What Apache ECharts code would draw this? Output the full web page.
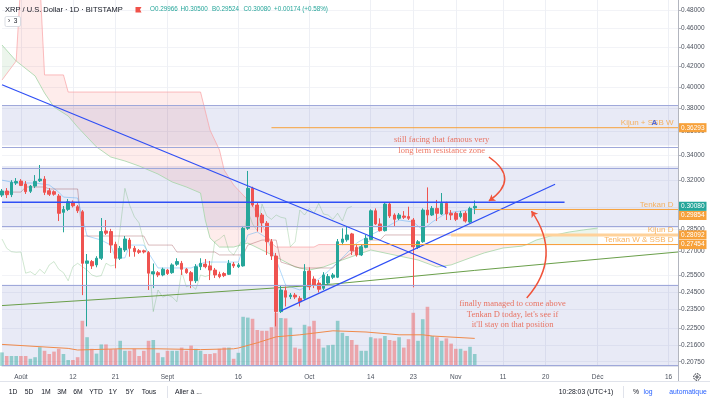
<!DOCTYPE html>
<html>
<head>
<meta charset="utf-8">
<script src="https://cdn.jsdelivr.net/npm/echarts@6/dist/echarts.min.js"></script>
<style>
html, body { margin: 0; padding: 0; background: #fff; }
#chart { width: 710px; height: 402px; }
</style>
</head>
<body>
<div id="chart"></div>
<script>
// XRP / USD, 1D, Bitstamp : 28 Jul 2019 -> 5 Nov 2019 (+ empty days on the right)
const dayCount = 144;
const dates = [];
for (let i = 0; i < dayCount; i++) {
  dates.push(new Date(Date.UTC(2019, 6, 28 + i)).toISOString().slice(0, 10));
}

const timeTicks = ['2019-08-01', '2019-08-12', '2019-08-21', '2019-09-01', '2019-09-16', '2019-10-01',
  '2019-10-14', '2019-10-23', '2019-11-01', '2019-11-11', '2019-11-20', '2019-12-01', '2019-12-16'];
const timeTickLabels = ['Août', '12', '21', 'Sept', '16', 'Oct', '14', '23', 'Nov', '11', '20', 'Déc', '16'];
const priceTicks = [0.48, 0.46, 0.44, 0.42, 0.40, 0.38, 0.36, 0.34, 0.32, 0.30, 0.285, 0.27, 0.255, 0.245,
  0.235, 0.225, 0.216, 0.2075];
const priceRange = [0.2054, 0.4924];

// candles
const opens = [0.3090, 0.3120, 0.3093, 0.3180, 0.3195, 0.3172, 0.3118, 0.3157, 0.3197, 0.3210,
  0.3122, 0.3115, 0.3083, 0.2965, 0.2986, 0.3037, 0.3005, 0.2969, 0.2625, 0.2636,
  0.2615, 0.2657, 0.2836, 0.2832, 0.2747, 0.2657, 0.2710, 0.2775, 0.2721, 0.2705,
  0.2705, 0.2693, 0.2559, 0.2567, 0.2553, 0.2583, 0.2567, 0.2619, 0.2625, 0.2588,
  0.2567, 0.2518, 0.2604, 0.2620, 0.2609, 0.2583, 0.2557, 0.2562, 0.2557, 0.2620,
  0.2604, 0.2609, 0.2854, 0.3140, 0.3017, 0.2946, 0.2889, 0.2764, 0.2671, 0.2339,
  0.2459, 0.2424, 0.2433, 0.2414, 0.2414, 0.2577, 0.2528, 0.2504, 0.2473, 0.2504,
  0.2539, 0.2539, 0.2760, 0.2777, 0.2816, 0.2727, 0.2678, 0.2727, 0.2779, 0.2976,
  0.2884, 0.2838, 0.3024, 0.2946, 0.2923, 0.2939, 0.2935, 0.2911, 0.2727, 0.2764,
  0.2981, 0.2946, 0.2993, 0.2953, 0.3029, 0.2958, 0.2958, 0.2935, 0.2958, 0.2897,
  0.29966];
const highs = [0.3135, 0.3142, 0.3202, 0.3218, 0.3210, 0.3195, 0.3165, 0.3241, 0.3320, 0.3233,
  0.3142, 0.3125, 0.3098, 0.3010, 0.3061, 0.3050, 0.3017, 0.2981, 0.2684, 0.2646,
  0.2670, 0.2925, 0.2911, 0.2850, 0.2764, 0.2736, 0.2802, 0.2789, 0.2736, 0.2716,
  0.2712, 0.2703, 0.2624, 0.2577, 0.2598, 0.2590, 0.2625, 0.2657, 0.2640, 0.2596,
  0.2577, 0.2620, 0.2657, 0.2652, 0.2640, 0.2596, 0.2573, 0.2570, 0.2646, 0.2633,
  0.2628, 0.2870, 0.3273, 0.3152, 0.3032, 0.2960, 0.2904, 0.2782, 0.2691, 0.2492,
  0.2483, 0.2445, 0.2445, 0.2427, 0.2620, 0.2600, 0.2545, 0.2522, 0.2570, 0.2559,
  0.2565, 0.2782, 0.2854, 0.2866, 0.2823, 0.2742, 0.2747, 0.2809, 0.2986, 0.2993,
  0.2923, 0.3034, 0.3039, 0.2958, 0.2960, 0.2974, 0.3005, 0.2925, 0.2775, 0.2993,
  0.3147, 0.3010, 0.3054, 0.3105, 0.3041, 0.2981, 0.2969, 0.2974, 0.2974, 0.3005,
  0.30500];
const lows = [0.3075, 0.3068, 0.3075, 0.3165, 0.3157, 0.3098, 0.3105, 0.3142, 0.3188, 0.3090,
  0.3083, 0.3085, 0.2904, 0.2827, 0.2974, 0.3000, 0.2960, 0.2433, 0.2258, 0.2590,
  0.2600, 0.2646, 0.2809, 0.2691, 0.2594, 0.2646, 0.2697, 0.2667, 0.2667, 0.2684,
  0.2688, 0.2463, 0.2474, 0.2540, 0.2545, 0.2553, 0.2560, 0.2609, 0.2553, 0.2560,
  0.2474, 0.2504, 0.2583, 0.2594, 0.2522, 0.2535, 0.2533, 0.2540, 0.2553, 0.2596,
  0.2596, 0.2604, 0.2843, 0.3005, 0.2832, 0.2825, 0.2678, 0.2646, 0.2258, 0.2331,
  0.2368, 0.2410, 0.2410, 0.2368, 0.2405, 0.2463, 0.2474, 0.2448, 0.2463, 0.2492,
  0.2528, 0.2534, 0.2742, 0.2764, 0.2678, 0.2667, 0.2671, 0.2721, 0.2775, 0.2877,
  0.2832, 0.2832, 0.2925, 0.2866, 0.2911, 0.2918, 0.2911, 0.2479, 0.2716, 0.2757,
  0.2891, 0.2939, 0.2904, 0.2946, 0.2911, 0.2911, 0.2904, 0.2923, 0.2893, 0.2891,
  0.29524];
const closes = [0.3120, 0.3093, 0.3185, 0.3192, 0.3162, 0.3115, 0.3157, 0.3192, 0.3210, 0.3110,
  0.3096, 0.3096, 0.2958, 0.2986, 0.3041, 0.3012, 0.2976, 0.2625, 0.2640, 0.2609,
  0.2657, 0.2832, 0.2821, 0.2742, 0.2657, 0.2721, 0.2782, 0.2721, 0.2699, 0.2695,
  0.2697, 0.2564, 0.2573, 0.2553, 0.2588, 0.2562, 0.2615, 0.2636, 0.2588, 0.2567,
  0.2518, 0.2604, 0.2625, 0.2604, 0.2583, 0.2553, 0.2543, 0.2549, 0.2625, 0.2609,
  0.2615, 0.2854, 0.3140, 0.3017, 0.2934, 0.2891, 0.2764, 0.2671, 0.2339, 0.2463,
  0.2421, 0.2433, 0.2422, 0.2395, 0.2575, 0.2482, 0.2492, 0.2467, 0.2553, 0.2543,
  0.2553, 0.2764, 0.2782, 0.2809, 0.2705, 0.2678, 0.2731, 0.2786, 0.2976, 0.2884,
  0.2838, 0.3024, 0.2939, 0.2916, 0.2946, 0.2930, 0.2923, 0.2731, 0.2764, 0.2981,
  0.2946, 0.2993, 0.2958, 0.3029, 0.2953, 0.2946, 0.2916, 0.2958, 0.2904, 0.2993,
  0.30080];
// volume, millions XRP
const volumes = [34, 25, 25, 25, 25, 25, 18, 22, 47, 38, 30, 36, 43, 30, 15, 15, 22, 113, 72, 43,
  31, 54, 54, 42, 42, 63, 38, 38, 43, 25, 38, 63, 65, 33, 22, 38, 38, 38, 46, 38,
  51, 43, 38, 30, 30, 32, 43, 46, 46, 18, 33, 123, 121, 118, 90, 88, 88, 97, 133, 120,
  119, 96, 46, 43, 103, 99, 113, 68, 46, 52, 53, 113, 83, 75, 65, 53, 38, 38, 72, 69,
  69, 75, 65, 63, 72, 46, 67, 133, 63, 117, 148, 75, 72, 63, 69, 56, 43, 43, 38, 48, 30];
const volMaDays = [0, 14, 16, 25, 33, 42, 49, 50, 54, 58, 63, 70, 77, 84, 89, 91, 100];
const volMaValues = [54, 44, 40, 43, 43, 41, 43, 45, 58, 73, 78, 88, 85, 78, 78, 75, 69];

// Ichimoku (day index, price)
const tenkanDays = [0, 3, 7, 10, 12, 13, 16, 17, 18, 21, 23, 24, 26, 27, 30, 31, 33, 40, 43, 50, 51, 52, 54,
  56, 58, 60, 63, 66, 69, 72, 75, 78, 81, 84, 87, 89, 91, 94, 97, 100];
const tenkanValues = [0.3202, 0.3180, 0.3180, 0.3165, 0.3112, 0.3075, 0.3068, 0.2925, 0.2802, 0.2775,
  0.2742, 0.2659, 0.2659, 0.2742, 0.2742, 0.2691, 0.2596, 0.2596, 0.2633, 0.2633, 0.2723, 0.2809,
  0.2829, 0.2789, 0.2646, 0.2492, 0.2463, 0.2505, 0.2576, 0.2659, 0.2755, 0.2809, 0.2857, 0.2911,
  0.2897, 0.2843, 0.2897, 0.2960, 0.2974, 0.2988];
const kijunDays = [0, 4, 5, 9, 10, 16, 17, 30, 31, 36, 37, 45, 46, 51, 52, 55, 58, 59, 63, 70, 71, 78, 80, 81, 100];
const kijunValues = [0.3112, 0.3112, 0.3150, 0.3150, 0.3135, 0.3135, 0.2802, 0.2802, 0.2742, 0.2742,
  0.2697, 0.2697, 0.2678, 0.2678, 0.2742, 0.2775, 0.2775, 0.2633, 0.2596, 0.2596, 0.2633, 0.2775,
  0.2775, 0.2809, 0.2809];
const spanADays = [0, 3, 7, 9, 11, 14, 16, 18, 20, 23, 26, 29, 33, 36, 39, 42, 43, 44, 46, 49, 52, 55,
  58, 62, 65, 68, 72, 75, 78, 85, 88, 92, 95, 99, 102, 106, 110, 111, 113, 116, 120, 123, 126];
const spanAValues = [0.4422, 0.4256, 0.4107, 0.3943, 0.3813, 0.3732, 0.3635, 0.3549, 0.3466, 0.3384,
  0.3352, 0.3312, 0.3249, 0.3188, 0.3150, 0.3105, 0.2911, 0.2789, 0.2729, 0.2729, 0.2755, 0.2710,
  0.2665, 0.2602, 0.2583, 0.2602, 0.2646, 0.2678, 0.2710, 0.2665, 0.2646, 0.2602, 0.2615, 0.2659,
  0.2691, 0.2723, 0.2735, 0.2745, 0.2775, 0.2802, 0.2829, 0.2843, 0.2856];
const spanBDays = [0, 3, 4, 8, 9, 13, 14, 42, 44, 46, 47, 49, 51, 53, 55, 57, 58, 66, 67, 111, 126];
const spanBValues = [0.4067, 0.4256, 0.5165, 0.5165, 0.4117, 0.4117, 0.3952, 0.3952, 0.3609, 0.3441,
  0.3280, 0.3165, 0.3090, 0.3017, 0.2877, 0.2755, 0.2729, 0.2729, 0.2745, 0.2745, 0.2745];
const cloudFrom = [0, 3, 111];
const cloudTo = [3, 111, 126];
const cloudBull = [true, false, true];

// long green curve
const greenDays = [0, 34, 70, 100, 143];
const greenValues = [0.2373, 0.2431, 0.2498, 0.2581, 0.2697];

// blue trend lines [dayFrom, priceFrom, dayTo, priceTo]
const trendFalling = [0, 0.4021, 94, 0.2599];
const trendRising = [59, 0.2343, 117, 0.3171];
const trendFlat = [0, 0.3037, 119, 0.3037];

// resistance zones [low, high]
const zoneLow = [0.3478, 0.2854, priceRange[0]];
const zoneHigh = [0.3822, 0.3312, 0.2496];

// level lines
const levelNames = ['Kijun + SSB W', 'Tenkan D', 'Kijun D', 'Tenkan W & SSB D'];
const levelPrices = [0.36293, 0.29854, 0.28092, 0.27454];
const levelFrom = [57, 100, 95, 71];
const lastPrice = 0.30080;

// notes
const noteTexts = ['still facing that famous very\nlong term resistance zone',
  "finally managed to come above\nTenkan D today, let's see if\nit'll stay on that position"];
const noteDays = [93, 108];
const notePrices = [0.3480, 0.2324];
const arrowFrom = [[103, 0.3384], [111, 0.2416]];
const arrowTo = [[103, 0.3047], [112, 0.2974]];
const arrowBend = [0.72, -0.39];

const L = Math.log;
const UP = '#26a69a', DOWN = '#ef5350', ORANGE = '#f7a13a', BLUE = '#2f4ff5';
const pts = (days, vals) => days.map((d, k) => [dates[d], L(vals[k])]);
const tickSet = new Set(timeTicks);
const tickText = {};
timeTicks.forEach((d, k) => { tickText[d] = timeTickLabels[k]; });
const tickInterval = (idx, val) => tickSet.has(val);

const candleData = opens.map((o, i) => [L(o), L(closes[i]), L(lows[i]), L(highs[i])]);
const volumeData = volumes.map((v, i) => ({
  value: v,
  itemStyle: { color: closes[i] >= opens[i] ? 'rgba(38,166,154,0.45)' : 'rgba(239,83,80,0.45)' }
}));
const chikouData = closes.slice(26).map((c, k) => [dates[k], L(c)]);

function spanPoints(days, vals, from, to, api) {
  const out = [];
  days.forEach((d, k) => { if (d >= from && d <= to) out.push(api.coord([d, L(vals[k])])); });
  return out;
}

const chart = echarts.init(document.getElementById('chart'));
const thin = (color, width, extra) => Object.assign({
  type: 'line', showSymbol: false, symbol: 'none', silent: true, z: 3,
  lineStyle: { color: color, width: width || 1 }
}, extra || {});

const zoneEdges = zoneLow.concat(zoneHigh);
const series = [
  {
    type: 'line', data: [], silent: true,
    markArea: {
      silent: true,
      itemStyle: { color: 'rgba(63,81,181,0.12)' },
      data: zoneLow.map((lo, k) => [{ yAxis: L(lo) }, { yAxis: L(zoneHigh[k]) }])
    },
    markLine: {
      silent: true, symbol: 'none', label: { show: false },
      lineStyle: { color: '#9fa8da', type: 'solid', width: 1 },
      data: zoneEdges.map(p => ({ yAxis: L(p) }))
    }
  },
  {
    type: 'custom', silent: true, z: 1, clip: true,
    data: cloudFrom.map((f, k) => [f, k]),
    renderItem: (params, api) => {
      const k = params.dataIndex;
      const a = spanPoints(spanADays, spanAValues, cloudFrom[k], cloudTo[k], api);
      const b = spanPoints(spanBDays, spanBValues, cloudFrom[k], cloudTo[k], api).reverse();
      return {
        type: 'polygon', shape: { points: a.concat(b) },
        style: { fill: cloudBull[k] ? 'rgba(67,160,71,0.1)' : 'rgba(244,67,54,0.1)' }
      };
    }
  },
  thin('rgba(165,214,167,0.8)', 1, { data: pts(spanADays, spanAValues), z: 2 }),
  thin('rgba(250,161,164,0.7)', 1, { data: pts(spanBDays, spanBValues), z: 2 }),
  thin('rgba(67,160,71,0.25)', 1, { data: chikouData, z: 2 }),
  thin('rgba(33,150,243,0.35)', 1, { data: pts(tenkanDays, tenkanValues), z: 2 }),
  thin('rgba(128,25,34,0.3)', 1, { data: pts(kijunDays, kijunValues), z: 2 }),
  thin('#6a9f4a', 1, { data: pts(greenDays, greenValues) }),
  {
    type: 'bar', xAxisIndex: 1, yAxisIndex: 1, data: volumeData, barWidth: 3.6, silent: true, z: 2
  },
  thin('#f08a4b', 1, { xAxisIndex: 1, yAxisIndex: 1, data: volMaDays.map((d, k) => [dates[d], volMaValues[k]]) }),
  {
    type: 'candlestick', data: candleData, barWidth: 3.2, silent: true, z: 4,
    itemStyle: { color: UP, color0: DOWN, borderColor: UP, borderColor0: DOWN, borderWidth: 1 }
  },
  thin(BLUE, 1.2, { data: [[dates[trendFalling[0]], L(trendFalling[1])], [dates[trendFalling[2]], L(trendFalling[3])]], z: 5 }),
  thin(BLUE, 1.2, { data: [[dates[trendRising[0]], L(trendRising[1])], [dates[trendRising[2]], L(trendRising[3])]], z: 5 }),
  thin(BLUE, 1.5, { data: [[dates[trendFlat[0]], L(trendFlat[1])], [dates[trendFlat[2]], L(trendFlat[3])]], z: 5 })
];

const boxLabel = (bg, dy) => ({
  show: true, distance: 1, offset: [0, dy || 0],
  formatter: p => Math.exp(p.value[1]).toFixed(5),
  backgroundColor: bg, color: '#fff', fontSize: 6.5, padding: [1.3, 2, 0.8, 2]
});

levelPrices.forEach((p, k) => {
  series.push(thin(k === 2 ? '#ffd29a' : ORANGE, k === 2 ? 3 : 1, {
    data: [[dates[levelFrom[k]], L(p)], [dates[dayCount - 1], L(p)]], z: 5,
    endLabel: boxLabel(ORANGE, k === 1 ? 6 : 0)
  }));
});
series.push(thin('rgba(0,0,0,0)', 1, {
  data: [[dates[100], L(lastPrice)], [dates[dayCount - 1], L(lastPrice)]], z: 6,
  endLabel: boxLabel(UP)
}));

series.push({
  type: 'scatter', symbolSize: 1, itemStyle: { color: 'rgba(0,0,0,0)' }, silent: true, z: 6,
  data: levelPrices.map((p, k) => ({ value: [dates[dayCount - 1], L(p)], name: levelNames[k] })),
  label: {
    show: true, position: 'left', distance: 4, offset: [0, -4.7], formatter: p => p.name,
    color: ORANGE, fontSize: 8
  }
});
series.push({
  type: 'scatter', symbolSize: 1, itemStyle: { color: 'rgba(0,0,0,0)' }, silent: true, z: 7,
  data: [{ value: [dates[138], L(levelPrices[0])] }],
  label: { show: true, position: 'inside', offset: [0, -4.5], formatter: 'A', color: '#2a4bd8', fontSize: 8, fontWeight: 'bold' }
});
series.push({
  type: 'scatter', symbolSize: 1, itemStyle: { color: 'rgba(0,0,0,0)' }, silent: true, z: 7,
  data: noteTexts.map((t, k) => ({ value: [dates[noteDays[k]], L(notePrices[k])], name: t })),
  label: {
    show: true, position: 'inside', formatter: p => p.name, align: 'center', verticalAlign: 'middle',
    color: '#e8553d', fontFamily: 'Liberation Serif', fontSize: 8.5, lineHeight: 10.5
  }
});
series.push({
  type: 'lines', coordinateSystem: 'cartesian2d', silent: true, z: 7,
  symbol: ['none', 'arrow'], symbolSize: 6,
  lineStyle: { color: '#f0533a', width: 1.5, opacity: 1 },
  data: arrowFrom.map((f, k) => ({
    coords: [[dates[f[0]], L(f[1])], [dates[arrowTo[k][0]], L(arrowTo[k][1])]],
    lineStyle: { curveness: arrowBend[k] }
  }))
});

const ink = '#131722';
const hdr = (x, text, color) => ({
  type: 'text', x: x, y: 9.5, silent: true, z: 100,
  style: { text: text, fill: color, fontSize: 6.3, fontFamily: 'Liberation Sans', verticalAlign: 'middle' }
});
const tool = (x, text, color, align) => ({
  type: 'text', x: x, y: 392, silent: true, z: 100,
  style: { text: text, fill: color || ink, fontSize: 6.8, fontFamily: 'Liberation Sans', align: align || 'center', verticalAlign: 'middle' }
});

const graphic = [
  { type: 'text', x: 5, y: 9.5, silent: true, z: 100, style: { text: 'XRP / U.S. Dollar · 1D · BITSTAMP', fill: ink, fontSize: 7.5, fontFamily: 'Liberation Sans', verticalAlign: 'middle' } },
  { type: 'polygon', silent: true, z: 100, shape: { points: [[135.5, 7], [141.5, 7], [140, 9.5], [141.5, 12.5], [135.5, 12.5]] }, style: { fill: '#f0524a' } },
  hdr(150, 'O0.29966', UP), hdr(180.5, 'H0.30500', UP), hdr(212, 'B0.29524', UP), hdr(243.5, 'C0.30080', UP),
  hdr(274, '+0.00174 (+0.58%)', UP),
  { type: 'rect', silent: true, z: 100, shape: { x: 5, y: 16.5, width: 15.5, height: 10, r: 1.5 }, style: { fill: '#fff', stroke: '#d1d4dc', lineWidth: 0.8 } },
  { type: 'text', x: 12.7, y: 21.7, silent: true, z: 101, style: { text: '›  3', fill: ink, fontSize: 6.5, align: 'center', verticalAlign: 'middle' } },
  { type: 'line', silent: true, z: 100, shape: { x1: 678.5, y1: 366, x2: 678.5, y2: 381 }, style: { stroke: '#b2b5be', lineWidth: 1 } },
  { type: 'line', silent: true, z: 100, shape: { x1: 0, y1: 381.5, x2: 710, y2: 381.5 }, style: { stroke: '#e0e3eb', lineWidth: 1 } },
  { type: 'circle', silent: true, z: 100, shape: { cx: 697, cy: 377, r: 3.3 }, style: { fill: 'none', stroke: ink, lineWidth: 1, lineDash: [1.6, 0.9] } },
  { type: 'circle', silent: true, z: 100, shape: { cx: 697, cy: 377, r: 1.2 }, style: { fill: 'none', stroke: ink, lineWidth: 0.8 } },
  tool(13, '1D'), tool(29, '5D'), tool(46, '1M'), tool(62, '3M'), tool(78, '6M'), tool(96, 'YTD'),
  tool(113, '1Y'), tool(130, '5Y'), tool(149, 'Tous'),
  { type: 'line', silent: true, z: 100, shape: { x1: 167.5, y1: 386, x2: 167.5, y2: 398 }, style: { stroke: '#e0e3eb', lineWidth: 1 } },
  tool(175, 'Aller à ...', ink, 'left'),
  tool(586, '10:28:03 (UTC+1)'),
  { type: 'line', silent: true, z: 100, shape: { x1: 623.5, y1: 386, x2: 623.5, y2: 398 }, style: { stroke: '#e0e3eb', lineWidth: 1 } },
  tool(636, '%'), tool(648, 'log', '#2962ff'), tool(688, 'automatique', '#2962ff')
];

chart.setOption({
  animation: false,
  backgroundColor: '#fff',
  textStyle: { fontFamily: 'Liberation Sans' },
  grid: [
    { left: 2, right: 32, top: 0, bottom: 36 },
    { left: 2, right: 32, bottom: 36, height: 60 }
  ],
  xAxis: [
    {
      type: 'category', data: dates, boundaryGap: false,
      axisLine: { show: true, lineStyle: { color: '#e0e3eb' } },
      axisTick: { show: false },
      axisLabel: { interval: tickInterval, formatter: v => tickText[v] || '', fontSize: 6.5, color: '#4c525e', margin: 8 },
      splitLine: { show: true, interval: tickInterval, lineStyle: { color: '#eef0f5', width: 1 } }
    },
    { type: 'category', data: dates, boundaryGap: false, gridIndex: 1, show: false }
  ],
  yAxis: [
    {
      type: 'value', position: 'right', min: L(priceRange[0]), max: L(priceRange[1]), scale: true,
      axisLine: { show: true, lineStyle: { color: '#b2b5be' } },
      axisTick: { show: true, length: 3, customValues: priceTicks.map(L), lineStyle: { color: '#b2b5be' } },
      axisLabel: { customValues: priceTicks.map(L), formatter: v => Math.exp(v).toFixed(5), fontSize: 6.5, color: '#4c525e', margin: 3 },
      splitLine: { show: true, lineStyle: { color: '#f2f3f7' } }
    },
    { type: 'value', gridIndex: 1, min: 0, max: 150, show: false }
  ],
  series: series,
  graphic: graphic
});
</script>
</body>
</html>
